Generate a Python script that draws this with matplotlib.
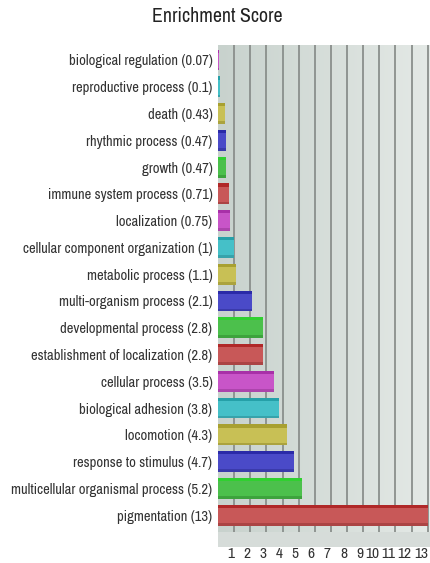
import matplotlib
matplotlib.use("Agg")
import matplotlib.pyplot as plt
import matplotlib.font_manager as fm
import numpy as np
from matplotlib.patches import Rectangle
from matplotlib.colors import LinearSegmentedColormap

categories = [
    "biological regulation (0.07)",
    "reproductive process (0.1)",
    "death (0.43)",
    "rhythmic process (0.47)",
    "growth (0.47)",
    "immune system process (0.71)",
    "localization (0.75)",
    "cellular component organization (1)",
    "metabolic process (1.1)",
    "multi-organism process (2.1)",
    "developmental process (2.8)",
    "establishment of localization (2.8)",
    "cellular process (3.5)",
    "biological adhesion (3.8)",
    "locomotion (4.3)",
    "response to stimulus (4.7)",
    "multicellular organismal process (5.2)",
    "pigmentation (13)",
]
scores = [0.07, 0.1, 0.43, 0.47, 0.47, 0.71, 0.75, 1.0, 1.1, 2.1, 2.8, 2.8,
          3.5, 3.8, 4.3, 4.7, 5.2, 13]
xticks = list(range(1, 14))
title = "Enrichment Score"

cycle = ["#c855c8", "#45c0c8", "#c8c055", "#4a4ac8", "#4cc04c", "#c85858"]
tops = ["#a830a8", "#25a0a8", "#a8a030", "#2a2aa8", "#30d030", "#b02828"]
sides = ["#9a3a9a", "#2e9098", "#989030", "#303098", "#339033", "#983838"]
colors = [cycle[i % 6] for i in range(len(scores))]
topc = [tops[i % 6] for i in range(len(scores))]
sidec = [sides[i % 6] for i in range(len(scores))]

avail = {f.name for f in fm.fontManager.ttflist}
narrow = "DejaVu Sans"
for cand in ["Liberation Sans Narrow", "Arial Narrow", "Archivo Narrow", "PT Sans Narrow",
             "Roboto Condensed", "Pragati Narrow", "Open Sans Condensed",
             "IBM Plex Sans Condensed", "Encode Sans Condensed", "Fira Sans Condensed",
             "Barlow Semi Condensed", "Asap Condensed"]:
    if cand in avail:
        narrow = cand
        break

W, H = 431, 563
fig = plt.figure(figsize=(W / 100, H / 100), dpi=100)
renderer = fig.canvas.get_renderer()


def fit_size(text, target_px, base=10):
    t = fig.text(0, 0, text, fontfamily=narrow, fontsize=base)
    w = t.get_window_extent(renderer).width
    t.remove()
    return base * target_px / w


lab_fs = min(fit_size(categories[16], 201), 12)
title_fs = min(fit_size(title, 131), 16)
tick_fs = min(fit_size("10", 14), 13)

left, right = 218 / W, 1.0
top_px, bot_px = 45, 532
ax = fig.add_axes([left, 1 - bot_px / H, right - left, (bot_px - top_px) / H])

grad = np.linspace(0, 1, 256).reshape(1, -1)
cmap = LinearSegmentedColormap.from_list("bg", ["#c8d2cd", "#e4e9e6"])
ax.imshow(grad, extent=[0, 13.2, 17.63, -0.56], aspect="auto", cmap=cmap, zorder=0)

ax.set_xlim(0, 13.2)
ax.set_ylim(17.63, -0.56)

for k in xticks:
    ax.axvline(k, color="#8a8f8c", lw=1.3, zorder=1)

y = np.arange(len(scores))
h = 0.78
ax.barh(y, scores, height=h, color=colors, zorder=3, edgecolor="none")
ax.barh(y - h / 2 + 0.06, scores, height=0.12, color=topc, zorder=4, edgecolor="none")
ax.barh(y + h / 2 - 0.05, scores, height=0.10, color=sidec, zorder=4, edgecolor="none", alpha=0.6)

for s in ax.spines.values():
    s.set_visible(False)

ax.set_yticks(y)
ax.set_yticklabels(categories, fontfamily=narrow, fontsize=lab_fs, color="#333333")
ax.tick_params(axis="y", length=0, pad=4)

ax.set_xticks(xticks)
ax.set_xticklabels([str(k) for k in xticks], fontfamily=narrow, fontsize=tick_fs, color="#333333")
ax.tick_params(axis="x", direction="out", length=11, width=1.2, color="#8a8f8c", pad=0)
for lbl in ax.get_xticklabels():
    lbl.set_horizontalalignment("right")

fig.patches.append(Rectangle((left, 1 - 547 / H), right - left, 15 / H,
                             transform=fig.transFigure, facecolor="#d6dcd9",
                             edgecolor="none", zorder=0))

fig.text(217 / W, 1 - 17 / H, title, ha="center", va="center",
         fontfamily=narrow, fontsize=title_fs, color="#222222")

fig.savefig("out.png", dpi=100)
